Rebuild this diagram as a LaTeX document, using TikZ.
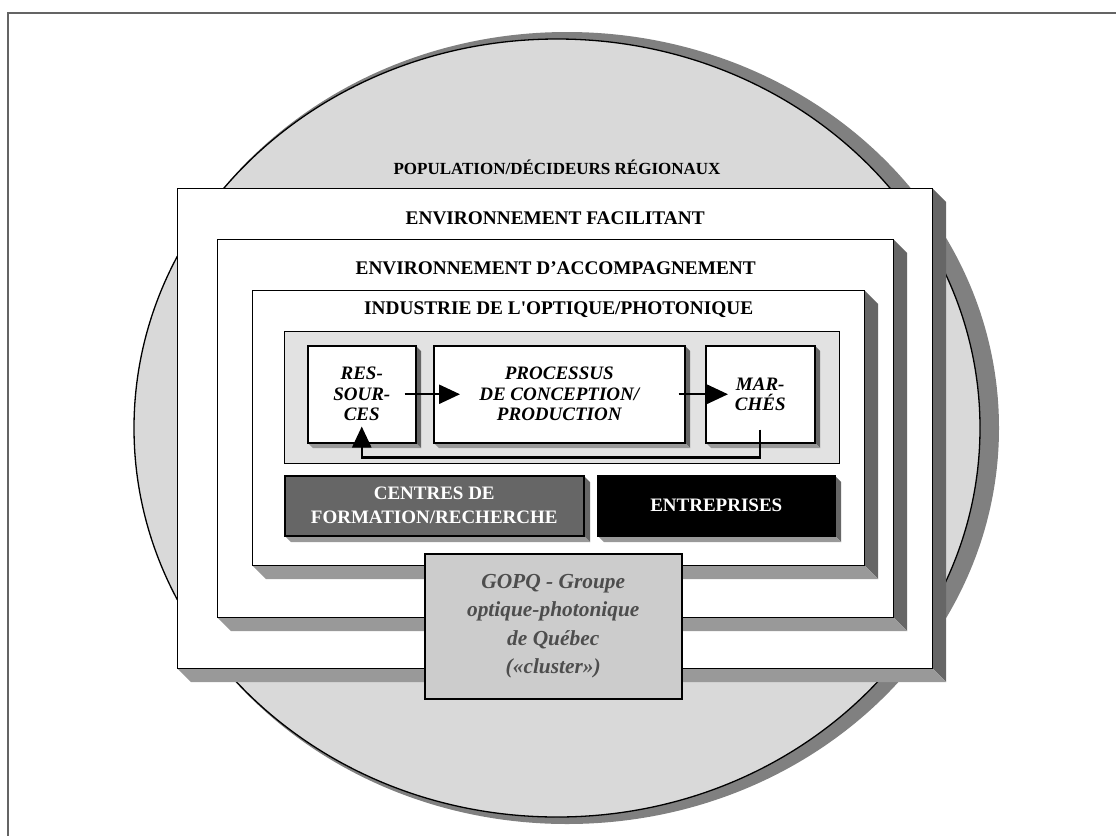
\documentclass[tikz,border=0pt]{standalone}
\usepackage{fontspec}
\setmainfont{Liberation Serif}
\usetikzlibrary{arrows.meta}
\usetikzlibrary{positioning}

\definecolor{framegray}{RGB}{100,100,100}
\definecolor{popfill}{RGB}{217,217,217}
\definecolor{popshade}{RGB}{128,128,128}
\definecolor{shadedark}{RGB}{102,102,102}
\definecolor{shadelight}{RGB}{153,153,153}
\definecolor{chainfill}{RGB}{226,226,226}
\definecolor{centrefill}{RGB}{102,102,102}
\definecolor{gopqfill}{RGB}{204,204,204}
\definecolor{gopqtext}{RGB}{77,77,77}

\begin{document}
\begin{tikzpicture}[x=1pt,y=-1pt,
    >={Triangle[length=21pt,width=19pt]},
    env box/.style={draw,line width=1.4pt,fill=white,anchor=north west,inner sep=0pt},
    stage box/.style={env box,line width=1.5pt,align=center,
      font=\fontsize{19}{20.5}\selectfont\bfseries\itshape},
    actor box/.style={env box,line width=1.5pt,align=center,text=white,
      font=\fontsize{19}{24}\selectfont\bfseries},
    side dark/.style={fill=shadedark},
    side light/.style={fill=shadelight},
    head/.style={inner sep=0pt,font=\fontsize{19.3}{22}\selectfont\bfseries},
    flow/.style={->,line width=2.4pt}
    ]

    \useasboundingbox (0,0) rectangle (1116,836);
    % page frame (only top and left edges show)
    \draw[framegray,line width=1.3pt] (1116,13) -- (8,13) -- (8,836);

    % population ellipse
    \fill[popshade] (567,428) ellipse [x radius=432, y radius=396];
    \draw[fill=popfill,line width=1.3pt] (557,428) ellipse [x radius=423, y radius=389];
    \node[head,font=\fontsize{17}{20}\selectfont\bfseries] (popT) at (557,167) {POPULATION/DÉCIDEURS RÉGIONAUX};

    % nested environments
    \foreach \nm/\xa/\ya/\xb/\yb in {fac/177/188/932/668, acc/217/239/893/617, ind/252/290/864/565}{
      \fill[side dark] (\xb,\ya) -- ++(14,14) -- (\xb+14,\yb+14) -- (\xb,\yb) -- cycle;
      \fill[side light] (\xa,\yb) -- ++(14,14) -- (\xb+14,\yb+14) -- (\xb,\yb) -- cycle;
      \node[env box,minimum width={(\xb-\xa)*1pt},minimum height={(\yb-\ya)*1pt}] (\nm) at (\xa,\ya) {};
    }
    \node[head,below=24pt of fac.north] (facT) {ENVIRONNEMENT FACILITANT};
    \node[head,below=22pt of acc.north] (accT) {ENVIRONNEMENT D’ACCOMPAGNEMENT};
    \node[head,below=12pt of ind.north] (indT) {INDUSTRIE DE L\XeTeXglyph\XeTeXcharglyph"0027\relax OPTIQUE/PHOTONIQUE};

    % value chain
    \node[env box,fill=chainfill,line width=1pt,minimum width=555,minimum height=132] (chain) at (284,331) {};
    \foreach \nm/\xa/\xb/\txt in {res/307/415/{RES-\\SOUR-\\CES}, proc/433/684/{PROCESSUS\\DE CONCEPTION/\\PRODUCTION}, march/705/814/{MAR-\\CHÉS}}{
      \fill[side dark] (\xb,345) -- ++(6,6) -- (\xb+6,448) -- (\xb,442) -- cycle;
      \fill[side light] (\xa,442) -- ++(6,6) -- (\xb+6,448) -- (\xb,442) -- cycle;
      \node[stage box,minimum width={(\xb-\xa)*1pt},minimum height=97] (\nm) at (\xa,345) {\txt};
    }

    \draw[flow] ([xshift=-12pt]res.east) -- ([xshift=27pt]proc.west);
    \draw[flow] ([xshift=-7pt]proc.east) -- ([xshift=23pt]march.west);
    \draw[flow] ([yshift=14pt]march.south) -- ([yshift=-14pt]march.south) -| ([yshift=17pt]res.south);

    % actors
    \foreach \nm/\xa/\xb/\col/\txt in {centre/284/583/centrefill/{CENTRES DE\\FORMATION/RECHERCHE}, firm/597/834/black/{ENTREPRISES}}{
      \fill[side dark] (\xb,475) -- ++(7,7) -- (\xb+7,542) -- (\xb,535) -- cycle;
      \fill[side light] (\xa,535) -- ++(7,7) -- (\xb+7,542) -- (\xb,535) -- cycle;
      \node[actor box,fill=\col,minimum width={(\xb-\xa)*1pt},minimum height=60] (\nm) at (\xa,475) {\txt};
    }

    % cluster
    \node[env box,fill=gopqfill,line width=1.5pt,minimum width=257,minimum height=145,
      align=center,text=gopqtext,font=\fontsize{21.4}{28.3}\selectfont\bfseries\itshape] (gopq) at (424,553)
      {GOPQ - Groupe\\optique-photonique\\de Québec\\(«cluster»)};
\end{tikzpicture}
\end{document}
